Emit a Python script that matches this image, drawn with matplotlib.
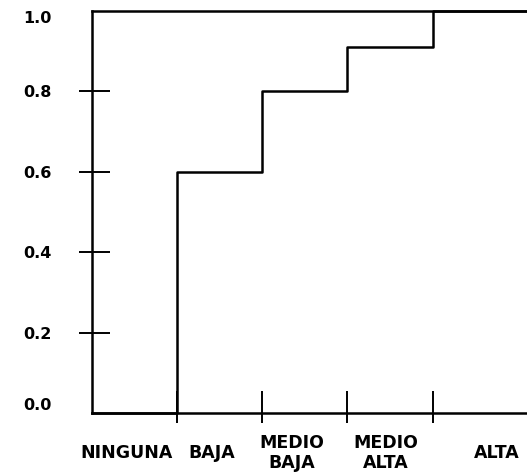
import matplotlib
matplotlib.use("Agg")
import matplotlib.pyplot as plt

# Cumulative proportion reached in each intensity class
categories = ["NINGUNA", "BAJA", "MEDIO\nBAJA", "MEDIO\nALTA", "ALTA"]
cumulative = [0.0, 0.6, 0.8, 0.91, 1.0]
ytick_values = [0.0, 0.2, 0.4, 0.6, 0.8, 1.0]
ytick_labels = ["0.0", "0.2", "0.4", "0.6", "0.8", "1.0"]

DPI = 100
fig = plt.figure(figsize=(5.27, 4.74), dpi=DPI)
ax = fig.add_axes([0.175, 0.1287, 0.825, 0.848])

n = len(categories)
edges = list(range(n + 1))
xmax = 5.11
edges[-1] = xmax
ax.step(edges, cumulative + [cumulative[-1]], where="post",
        color="black", linewidth=1.8, clip_on=False)

ax.set_xlim(0, xmax)
ax.set_ylim(0, 1.0)

for side in ("left", "top", "bottom"):
    ax.spines[side].set_linewidth(1.8)
    ax.spines[side].set_color("black")
ax.spines["right"].set_visible(False)

px = 72.0 / DPI  # points per pixel

# y axis: labelled ticks, cross marks on the inner values
ax.set_yticks(ytick_values)
ax.set_yticklabels(ytick_labels, fontsize=11.5, fontweight="heavy")
ax.tick_params(axis="y", which="major", direction="out", length=13 * px,
               width=1.4, pad=28 * px)
inner = ytick_values[1:-1]
ax.set_yticks(inner, minor=True)
ax.tick_params(axis="y", which="minor", direction="in", length=18 * px,
               width=1.4)
ax.yaxis.remove_overlapping_locs = False
yt = ax.yaxis.get_major_ticks()
for t in (yt[0], yt[-1]):
    t.tick1line.set_visible(False)
yl = ax.get_yticklabels()
yl[0].set_va("bottom")
yl[-1].set_va("top")

# x axis: marks at class boundaries
bounds = list(range(1, n))
ax.set_xticks(bounds)
ax.set_xticklabels([])
ax.tick_params(axis="x", which="major", direction="in", length=22 * px,
               width=1.4)
ax.set_xticks(bounds, minor=True)
ax.tick_params(axis="x", which="minor", direction="out", length=10 * px,
               width=1.4)
ax.xaxis.remove_overlapping_locs = False

# class names under the axis
label_x = [0.4, 1.4, 2.35, 3.45, 4.75]
for x, name in zip(label_x, categories):
    ax.text(x, -0.0995, name, transform=ax.get_xaxis_transform(),
            ha="center", va="center", fontsize=12.5, fontweight="heavy",
            linespacing=1.15)

fig.savefig("out.png", dpi=DPI)
